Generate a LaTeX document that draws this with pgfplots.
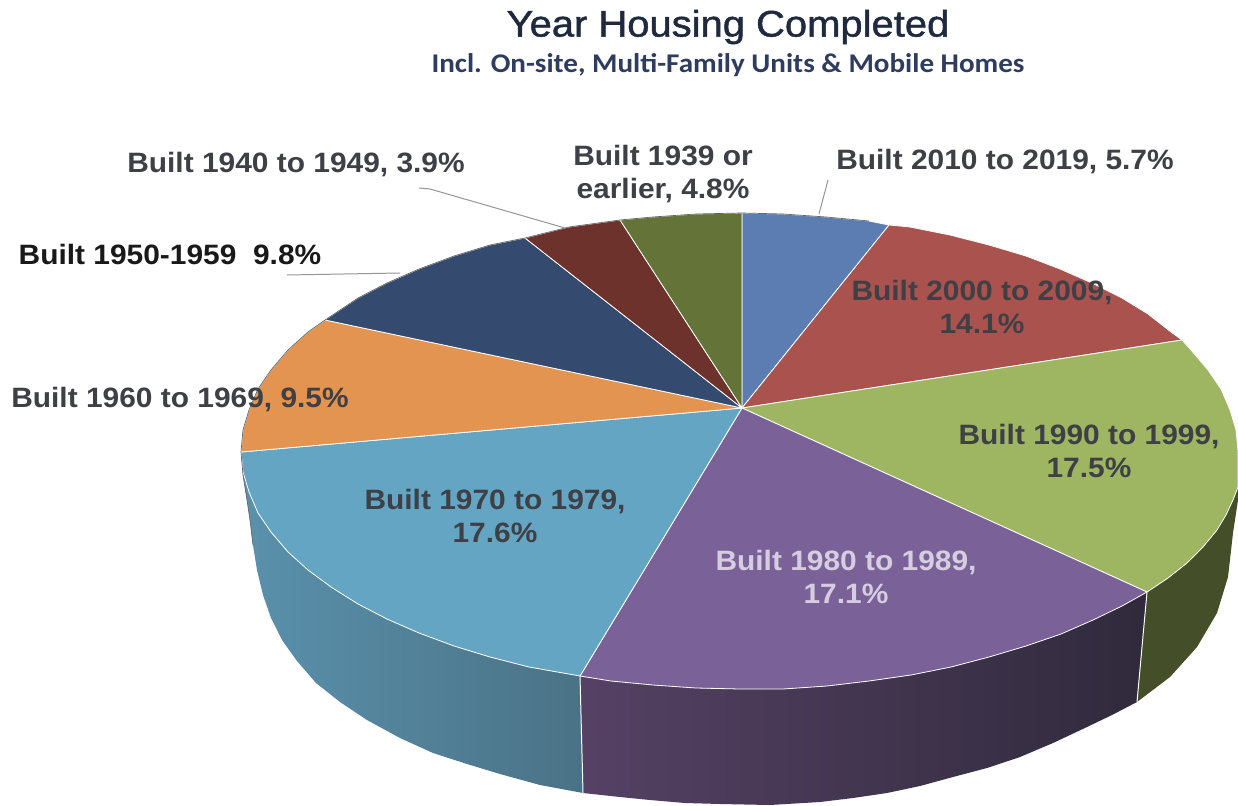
\documentclass[border=0pt]{standalone}
\usepackage{pgfplots}
\pgfplotsset{compat=1.18}
\usepackage{fontspec}
\setmainfont{Liberation Sans}
\newfontfamily\subfont{Carlito}
\newfontfamily\titlefont{Liberation Sans}[FakeBold=1.2]
\definecolor{cblue}{RGB}{91,125,178}
\definecolor{cred}{RGB}{170,82,78}
\definecolor{cgreen}{RGB}{158,181,98}
\definecolor{cpurple}{RGB}{122,98,152}
\definecolor{ccyan}{RGB}{100,165,195}
\definecolor{corange}{RGB}{226,148,80}
\definecolor{cnavy}{RGB}{52,74,110}
\definecolor{cmaroon}{RGB}{110,50,45}
\definecolor{colive}{RGB}{100,115,55}
\definecolor{sgreen}{RGB}{68,78,40}
\definecolor{spurpleA}{RGB}{85,65,100}
\definecolor{spurpleB}{RGB}{48,42,60}
\definecolor{scyanA}{RGB}{90,145,172}
\definecolor{scyanB}{RGB}{74,114,134}
\definecolor{ctext}{RGB}{62,64,70}
\definecolor{ctitle}{RGB}{32,42,62}
\definecolor{csub}{RGB}{45,60,95}
\definecolor{cleader}{RGB}{150,150,150}
\definecolor{clight}{RGB}{215,205,225}
\tikzset{lab/.style={font=\fontsize{28}{33.5}\selectfont\bfseries,text=ctext,xscale=1.068,align=center,inner sep=0pt}}
\begin{document}
\begin{tikzpicture}
\begin{axis}[
  x=1pt,y=1pt,xmin=0,xmax=1238,ymin=0,ymax=805,y dir=reverse,
  hide axis,no markers,
  every axis plot/.append style={line join=round,sharp plot},
]
\addplot[draw=none,fill=white] coordinates {(0,0)(1238,0)(1238,805)(0,805)(0,0)};
% side faces
\addplot[draw=none,fill=sgreen] coordinates {
(1147,592)(1168,578)(1187,563)(1203,547)(1217,530)(1226,515)(1233,500)(1238,487)(1238,500)(1233,533)(1228,577)(1217,613)(1197,647)(1170,677)(1137,702)(1147,592)};
\addplot[draw=none,left color=spurpleA,middle color=spurpleB,right color=spurpleB] coordinates {
(580,676)(611,681)(653,685)(696,688)(740,689)(783,689)(827,686)(869,681)(911,675)(951,667)(989,657)(1026,646)(1061,634)(1093,620)(1122,606)(1147,592)(1137,702)(1112,715)(1087,727)(1053,743)(1020,757)(987,768)(953,777)(920,786)(887,793)(853,798)(820,802)(770,805)(720,804)(685,803)(650,800)(620,797)(583,793)(580,676)};
\addplot[draw=none,left color=scyanA,right color=scyanB] coordinates {
(241,452)(243,472)(249,492)(258,513)(271,532)(288,552)(308,570)(331,587)(358,604)(387,619)(419,633)(454,646)(490,657)(529,667)(580,676)(583,793)(540,785)(500,774)(467,764)(433,753)(400,738)(367,720)(340,702)(316,683)(297,661)(282,640)(271,618)(263,595)(257,570)(253,545)(250,520)(247,500)(243,475)(241,452)};
\addplot[draw=white,line width=1pt] coordinates {(580,676)(583,793)};
\addplot[draw=white,line width=1pt] coordinates {(1147,592)(1137,702)};
% top slices
\addplot[draw=white,line width=.8pt,fill=cblue] coordinates {
(742,408)(742,213)(783,214)(826,217)(869,221)(889,225)(742,408)};
\addplot[draw=white,line width=.8pt,fill=cred] coordinates {
(742,408)(889,225)(910,227)(950,235)(989,245)(1026,256)(1060,269)(1092,283)(1122,298)(1148,314)(1171,332)(1182,340)(742,408)};
\addplot[draw=white,line width=.8pt,fill=cgreen] coordinates {
(742,408)(1182,340)(1191,350)(1208,370)(1221,389)(1230,410)(1236,430)(1238,451)(1238,487)(1233,500)(1226,515)(1217,530)(1203,547)(1187,563)(1168,578)(1147,592)(742,408)};
\addplot[draw=white,line width=.8pt,fill=cpurple] coordinates {
(742,408)(1147,592)(1122,606)(1093,620)(1061,634)(1026,646)(989,657)(951,667)(911,675)(869,681)(827,686)(783,689)(740,689)(696,688)(653,685)(611,681)(580,676)(742,408)};
\addplot[draw=white,line width=.8pt,fill=ccyan] coordinates {
(742,408)(580,676)(529,667)(490,657)(454,646)(419,633)(387,619)(358,604)(331,587)(308,570)(288,552)(271,532)(258,513)(249,492)(243,472)(241,452)(742,408)};
\addplot[draw=white,line width=.8pt,fill=corange] coordinates {
(742,408)(241,452)(243,430)(249,410)(258,389)(271,370)(288,350)(308,332)(325,320)(742,408)};
\addplot[draw=white,line width=.8pt,fill=cnavy] coordinates {
(742,408)(325,320)(358,298)(387,283)(419,269)(454,256)(490,245)(525,238)(742,408)};
\addplot[draw=white,line width=.8pt,fill=cmaroon] coordinates {
(742,408)(525,238)(569,227)(620,220)(742,408)};
\addplot[draw=white,line width=.8pt,fill=colive] coordinates {
(742,408)(620,220)(653,217)(696,214)(742,213)(742,408)};
% rim outline and leaders
\addplot[draw=black!60,line width=.7pt] coordinates {
(253,545)(250,520)(247,500)(243,475)(241,452)(243,430)(249,410)(258,389)(271,370)(288,350)(308,332)(325,320)(358,298)(387,283)(419,269)(454,256)(490,245)(525,238)(569,227)(620,220)(653,217)(696,214)(742,213)(783,214)(826,217)(869,221)};
\addplot[draw=cleader,line width=1pt] coordinates {(419,188)(430,189)(565,228)};
\addplot[draw=cleader,line width=1pt] coordinates {(287,275)(400,273)};
\addplot[draw=cleader,line width=1pt] coordinates {(828,180)(819,214)};
% labels
\node[font=\titlefont\fontsize{37}{42}\selectfont,text=ctitle,xscale=1.08,inner sep=0pt] at (axis cs:728,27) {Year Housing Completed};
\node[font=\fontsize{27}{30}\selectfont\subfont\bfseries,text=csub,xscale=1.077,inner sep=0pt] at (axis cs:728,65) {Incl. On-site, Multi-Family Units \& Mobile Homes};
\node[lab] at (axis cs:663,174) {Built 1939 or\\earlier, 4.8\%};
\node[lab] at (axis cs:1005,162) {Built 2010 to 2019, 5.7\%};
\node[lab] at (axis cs:296,165) {Built 1940 to 1949, 3.9\%};
\node[lab,text=black!90] at (axis cs:170,254) {Built 1950-1959\ \ 9.8\%};
\node[lab] at (axis cs:180,400) {Built 1960 to 1969, 9.5\%};
\node[lab] at (axis cs:982,307) {Built 2000 to 2009,\\14.1\%};
\node[lab] at (axis cs:1089,451) {Built 1990 to 1999,\\17.5\%};
\node[lab] at (axis cs:495,516) {Built 1970 to 1979,\\17.6\%};
\node[lab,text=clight] at (axis cs:846,577) {Built 1980 to 1989,\\17.1\%};
\end{axis}
\end{tikzpicture}
\end{document}
